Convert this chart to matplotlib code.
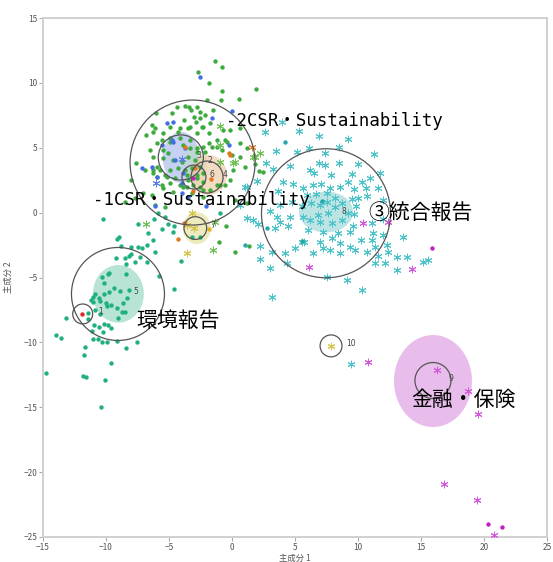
import numpy as np
import matplotlib
matplotlib.use("Agg")
import matplotlib.pyplot as plt
from matplotlib.patches import Ellipse

plt.rcParams['font.family'] = ['Noto Sans CJK JP', 'DejaVu Sans']

# ---------------- data (principal component scores) ----------------
csr_green = [
    (-1.35, 11.71), (-0.77, 11.24), (-2.70, 10.86), (-1.83, 9.97), (-0.79, 9.40), (1.90, 9.53),
    (0.58, 8.73), (-0.87, 8.68), (-3.73, 8.24), (-6.03, 7.68), (-1.96, 8.68), (-2.80, 8.16),
    (-3.41, 8.16), (-4.39, 8.16), (-4.79, 7.65), (-3.25, 7.91), (-2.54, 7.78), (-1.48, 7.91),
    (-2.54, 7.27), (-2.14, 7.52), (-3.02, 7.39), (-2.86, 7.01), (-3.81, 7.14), (-4.92, 6.62),
    (-6.11, 6.50), (-6.83, 5.98), (-6.25, 6.24), (-5.45, 6.11), (-4.13, 6.50), (-3.33, 6.62),
    (-2.40, 6.62), (-1.75, 6.88), (-0.69, 6.37), (-0.42, 5.46), (-1.21, 5.08), (-1.80, 5.39),
    (-2.14, 4.69), (-2.80, 4.96), (-3.33, 5.60), (-4.13, 5.73), (-4.92, 5.46), (-5.98, 5.34),
    (-6.51, 4.82), (-6.25, 4.31), (-5.45, 4.82), (-6.90, 3.28), (-6.25, 3.28), (-5.71, 3.28),
    (-5.98, 2.77), (-5.18, 2.77), (-4.52, 2.64), (-3.60, 2.90), (-2.80, 2.90), (-2.28, 3.03),
    (-2.54, 2.00), (-1.75, 1.74), (-0.95, 2.13), (-2.28, 1.23), (-3.20, 1.49), (-3.87, 2.00),
    (-4.66, 1.61), (-5.45, 1.87), (-6.37, 1.36), (-7.04, 1.49), (-7.70, 1.10), (-8.49, 0.84),
    (-6.11, 0.59), (-5.32, 0.45), (0.24, 0.97), (1.17, 0.72), (-6.37, 6.75), (-5.58, 5.60),
    (-4.92, 5.73), (-4.26, 6.24), (-3.47, 6.50), (-2.80, 6.11), (-2.28, 6.62), (-1.80, 6.11),
    (-1.61, 5.08), (-1.21, 5.60), (-0.82, 4.82), (-2.28, 5.08), (-2.80, 4.69), (-3.33, 4.96),
    (-3.87, 5.21), (-5.06, 4.57), (-5.45, 4.18), (-4.66, 4.05), (-3.99, 3.92), (-3.47, 4.31),
    (-2.94, 4.05), (-2.54, 3.54), (-3.20, 3.41), (-3.73, 3.28), (-4.26, 3.41), (-4.92, 3.28),
    (-5.98, 3.54), (-6.25, 3.03), (-5.32, 2.90), (-3.47, 2.51), (-2.80, 2.64), (-2.28, 2.38),
    (-3.07, 2.13), (-3.60, 2.00), (-4.13, 2.13), (-4.92, 2.26), (-5.58, 2.13), (-2.28, 1.74),
    (-1.21, 2.13), (-0.56, 2.13), (-0.16, 2.51), (0.10, 3.28), (0.63, 4.31), (1.03, 3.54),
    (1.17, 4.96), (-0.02, 4.44), (0.63, 5.34), (-0.56, 5.60), (-0.16, 6.37), (0.63, 6.50),
    (1.83, 3.72), (2.17, 3.23), (2.48, 3.15), (1.35, -2.57), (-1.0, -2.3), (0.2, -3.0),
    (-0.5, -1.0), (-8.0, 2.5), (-7.6, 3.8),
]
env_teal = [
    (-8.97, -1.90), (-9.15, -2.03), (-6.64, -1.55), (-6.29, -2.11), (-8.81, -2.57), (-8.02, -2.67),
    (-7.44, -2.63), (-7.17, -2.75), (-6.77, -2.50), (-6.11, -3.01), (-9.21, -3.52), (-8.49, -3.52),
    (-8.02, -3.19), (-8.15, -3.34), (-7.30, -3.40), (-6.77, -3.83), (-7.70, -3.78), (-8.41, -3.98),
    (-5.79, -4.89), (-9.74, -4.63), (-9.84, -4.73), (-10.29, -4.94), (-8.41, -4.76), (-10.16, -5.45),
    (-9.37, -5.83), (-8.89, -6.02), (-8.17, -5.97), (-9.76, -6.10), (-10.13, -6.30), (-10.53, -6.61),
    (-10.87, -6.27), (-11.01, -6.48), (-11.21, -6.74), (-11.06, -6.87), (-10.48, -6.79), (-10.02, -6.94),
    (-9.63, -7.12), (-9.94, -7.20), (-9.15, -7.38), (-8.67, -6.94), (-8.31, -6.61), (-8.75, -7.64),
    (-8.49, -7.64), (-9.02, -8.15), (-10.87, -7.51), (-11.40, -7.76), (-11.40, -8.22), (-10.48, -7.81),
    (-13.20, -8.15), (-10.93, -8.66), (-10.53, -8.79), (-10.16, -8.61), (-9.82, -8.66), (-9.60, -8.87),
    (-10.21, -9.18), (-11.13, -9.13), (-10.66, -9.76), (-11.01, -9.76), (-10.29, -9.95), (-9.94, -10.00),
    (-9.15, -9.90), (-8.41, -10.46), (-7.52, -10.00), (-4.60, -5.91), (-13.99, -9.43), (-13.60, -9.69),
    (-11.67, -10.38), (-11.72, -10.97), (-9.63, -11.57), (-11.80, -12.57), (-11.61, -12.65), (-10.08, -12.90),
    (-10.40, -14.96), (-14.79, -12.39), (-10.21, -0.49), (-7.44, -0.88), (-6.23, -0.52), (-5.85, -0.05),
    (-5.32, -0.32), (-5.06, -0.88), (-5.58, -1.29), (-4.60, -1.01), (-4.66, -1.47), (-4.05, -3.71),
    (-3.20, -1.90), (-2.54, -1.86), (-0.95, -0.05),
]
integ_cyan = [
    (6.90, 5.90), (9.23, 5.65), (8.52, 5.03), (11.29, 4.49), (3.47, 4.77), (5.13, 4.65), (6.11, 4.96),
    (7.38, 4.57), (2.70, 3.85), (3.28, 3.34), (4.60, 3.59), (6.19, 3.28), (6.90, 3.80), (7.38, 3.67),
    (6.51, 3.08), (7.83, 2.90), (8.47, 3.80), (10.02, 3.72), (9.50, 2.95), (9.18, 2.38), (10.34, 2.38),
    (10.95, 2.64), (11.75, 3.08), (11.56, 1.87), (10.61, 1.87), (9.68, 1.80), (8.57, 2.00), (7.78, 1.92),
    (7.06, 2.18), (6.40, 2.13), (5.66, 1.87), (4.87, 2.18), (4.07, 2.38), (1.96, 2.44), (1.03, 2.00),
    (3.67, 1.66), (5.93, 1.36), (6.67, 1.43), (7.56, 1.49), (8.17, 1.15), (8.71, 0.76), (9.50, 1.03),
    (10.02, 1.10), (10.69, 1.28), (12.01, 0.97), (9.87, 0.51), (9.71, -0.13), (9.23, -0.01), (8.17, 0.41),
    (7.52, 0.84), (6.98, 0.59), (6.25, 0.72), (5.53, 0.51), (4.74, 0.84), (3.81, 0.59), (3.02, 0.12),
    (1.17, -0.44), (1.69, -0.57), (2.09, -0.90), (3.55, -0.32), (4.60, -0.32), (5.66, -0.32), (6.19, -0.57),
    (6.85, -0.18), (7.64, -0.01), (6.98, -0.70), (7.91, -0.82), (8.71, -0.57), (9.63, -1.03), (11.09, -0.82),
    (12.01, -0.52), (4.47, -1.03), (3.81, -0.70), (3.41, -1.21), (6.06, -1.34), (7.25, -1.47), (8.44, -1.55),
    (9.37, -1.47), (11.21, -1.60), (12.01, -1.73), (5.53, -2.24), (5.71, -2.27), (6.98, -2.24), (7.91, -1.98),
    (8.57, -2.37), (9.37, -2.63), (10.21, -2.11), (11.09, -2.11), (11.35, -2.63), (12.28, -2.50), (13.60, -1.86),
    (2.22, -2.57), (3.15, -3.01), (4.21, -3.14), (5.00, -2.75), (7.25, -2.75), (7.78, -2.88), (6.45, -3.14),
    (8.57, -3.14), (9.76, -2.88), (10.69, -3.01), (11.61, -3.34), (12.40, -3.01), (13.07, -3.45), (13.87, -3.45),
    (15.18, -3.78), (15.58, -3.65), (11.35, -3.91), (12.14, -3.91), (13.07, -4.42), (2.22, -3.60), (3.02, -4.29),
    (4.34, -3.91), (7.52, -4.94), (9.10, -5.19), (10.29, -5.97), (3.15, -6.48), (9.44, -11.69), (3.94, 7.01),
    (5.3, 6.3), (2.6, 6.2), (1.17, 2.00), (0.63, 0.59),
]
integ_dots = [(4.21, 5.46), (7.12, 0.89), (5.53, -2.19), (2.75, -1.21), (1.03, -2.50)]
blue_dots = [
    (-2.54, 10.43), (-1.61, 7.27), (-4.66, 7.01), (-5.18, 6.88), (-4.79, 5.60), (-5.58, 5.21),
    (-7.17, 3.41), (-6.37, 3.54), (-3.99, 1.49), (-3.47, 1.23), (-0.02, 7.85), (-0.24, 5.21),
    (-4.66, 5.46), (-3.73, 4.96), (-4.52, 4.05), (-5.93, 2.77), (-3.87, 3.03), (-3.99, 2.26),
    (-6.11, 0.53), (-2.09, 0.53),
]
blue_stars = [(-3.99, 4.13), (-6.06, 2.30)]
orange_dots = [(-0.16, 4.44), (-3.73, 5.03), (-2.94, 3.41), (-1.69, 2.57), (-4.26, -2.06),
               (-3.81, -0.82), (-3.07, 1.69), (-0.24, 4.57)]
orange_stars = [(1.56, 5.08)]
yellow_dots = [(-1.83, -1.29)]
yellow_stars = [(-3.60, -0.96), (-2.99, -1.16), (-3.20, -0.05), (-3.60, -3.14), (7.86, -10.28)]
lgreen_stars = [(-6.83, -0.90), (-1.48, -2.88), (-1.35, -0.70), (1.83, 4.31), (0.24, 3.92), (-0.95, 5.21),
                (0.06, 3.80), (-0.95, 3.92), (2.22, 4.57), (1.69, 4.31), (-0.95, 6.67)]
fin_stars = [(10.82, -11.54), (16.25, -12.13), (18.75, -13.73), (19.50, -15.55), (16.83, -20.92),
             (19.42, -22.15), (20.82, -24.85), (10.42, -0.82), (12.40, -0.70), (6.13, -4.17), (14.26, -4.37)]
fin_dots = [(20.34, -24.00), (21.40, -24.21), (15.85, -2.75), (-3.12, 2.69)]
red_dots = [(-11.90, -7.81)]

# cluster circles: id, centre x, centre y, radius (x units)
cluster_ids = [1, 2, 3, 4, 5, 6, 7, 8, 9, 10]
cluster_x = [-11.85, -3.13, -4.06, -1.98, -9.05, -3.02, -2.91, 7.46, 15.95, 7.86]
cluster_y = [-7.81, 3.86, 4.25, 2.74, -6.27, 2.74, -1.19, -0.05, -12.94, -10.27]
cluster_r = [0.79, 4.96, 1.79, 1.27, 3.69, 0.95, 0.90, 5.12, 1.43, 0.87]

# density ellipses: centre x, centre y, width, height, colour
dens_x = [-4.05, -2.86, -1.87, -9.02, 7.46, 15.95, -2.80]
dens_y = [4.26, 3.67, 2.90, -6.26, 0.05, -12.98, -1.19]
dens_w = [2.91, 1.75, 2.94, 4.05, 4.29, 6.19, 2.22]
dens_h = [3.93, 3.10, 3.08, 4.45, 3.16, 7.09, 2.47]
dens_c = ['#9fb2ec', '#b8e0a8', '#e9c49a', '#9fdcc8', '#a6dcdc', '#e6b2e8', '#e9e4a8']
dens_a = [0.6, 0.35, 0.6, 0.75, 0.75, 0.85, 0.75]

annot_text = ['-2CSR・Sustainability', '-1CSR・Sustainability', '③統合報告', '環境報告', '金融・保険']
annot_x = [-0.5, -11.05, 10.85, -7.62, 14.26]
annot_y = [7.1, 0.97, 0.0, -8.35, -14.4]

ticks = [-25, -20, -15, -10, -5, 0, 5, 10, 15, 20, 25]

# ---------------- figure ----------------
W, H = 553, 562
fig = plt.figure(figsize=(W / 100, H / 100), dpi=100)
L, R, B, T = 43 / W, 547 / W, (H - 537) / H, (H - 18) / H
ax = fig.add_axes([L, B, R - L, T - B])
ax.set_xlim(-15, 25)
ax.set_ylim(-25, 15)
ky = ((R - L) * W) / ((T - B) * H)  # converts x-unit radius to y-units for round circles

for x, y, w, h, c, a in zip(dens_x, dens_y, dens_w, dens_h, dens_c, dens_a):
    ax.add_patch(Ellipse((x, y), w, h, facecolor=c, edgecolor='none', alpha=a, zorder=1))

star = (6, 2, 0)
def pts(lst):
    a = np.array(lst)
    return a[:, 0], a[:, 1]

def dots(lst, c, s=10):
    x, y = pts(lst)
    ax.scatter(x, y, s=s, c=c, marker='o', linewidths=0, zorder=3)

def stars(lst, c, s=24):
    x, y = pts(lst)
    ax.scatter(x, y, s=s, c=c, marker=star, linewidths=0.7, zorder=3)

dots(csr_green, '#3caa3c')
dots(env_teal, '#20b07e')
stars(integ_cyan, '#4cc3c8')
dots(integ_dots, '#25a8a8')
dots(blue_dots, '#3f6fe0')
stars(blue_stars, '#5a7fe0')
dots(orange_dots, '#e07820')
stars(orange_stars, '#e08030')
dots(yellow_dots, '#e0b41c')
stars(yellow_stars, '#d4c444')
stars(lgreen_stars, '#72c058')
stars(fin_stars, '#d458dc')
dots(fin_dots, '#c020c0')
dots(red_dots, '#e02828')

for cid, x, y, r in zip(cluster_ids, cluster_x, cluster_y, cluster_r):
    ax.add_patch(Ellipse((x, y), 2 * r, 2 * r * ky, facecolor='none', edgecolor='#555555',
                         linewidth=0.9, zorder=4))
    ax.annotate(str(cid), (x, y), xytext=(11, 1.5), textcoords='offset points',
                fontsize=5.5, color='#444444', ha='left', va='center', zorder=5,
                family=['DejaVu Sans'])

for t, x, y in zip(annot_text, annot_x, annot_y):
    fam = ['DejaVu Sans Mono', 'Noto Sans CJK JP'] if 'CSR' in t else ['Noto Sans CJK JP', 'DejaVu Sans']
    ax.text(x, y, t, fontsize=12.5 if 'CSR' in t else 15, family=fam, color='black',
            ha='left', va='center', zorder=6)

ax.set_xticks(ticks[2:])
ax.set_yticks(ticks[:-2])
ax.set_xlim(-15, 25)
ax.set_ylim(-25, 15)
ax.tick_params(axis='both', direction='out', length=3, width=0.8, color='#aaaaaa',
               labelsize=6, labelcolor='#555555', pad=1)
for sp in ax.spines.values():
    sp.set_color('#d0d0d0')
    sp.set_linewidth(1.4)
ax.set_xlabel('主成分 1', fontsize=6, color='#555555', labelpad=2)
ax.set_ylabel('主成分 2', fontsize=6, color='#555555', labelpad=8)

fig.savefig('out.png', dpi=100)
